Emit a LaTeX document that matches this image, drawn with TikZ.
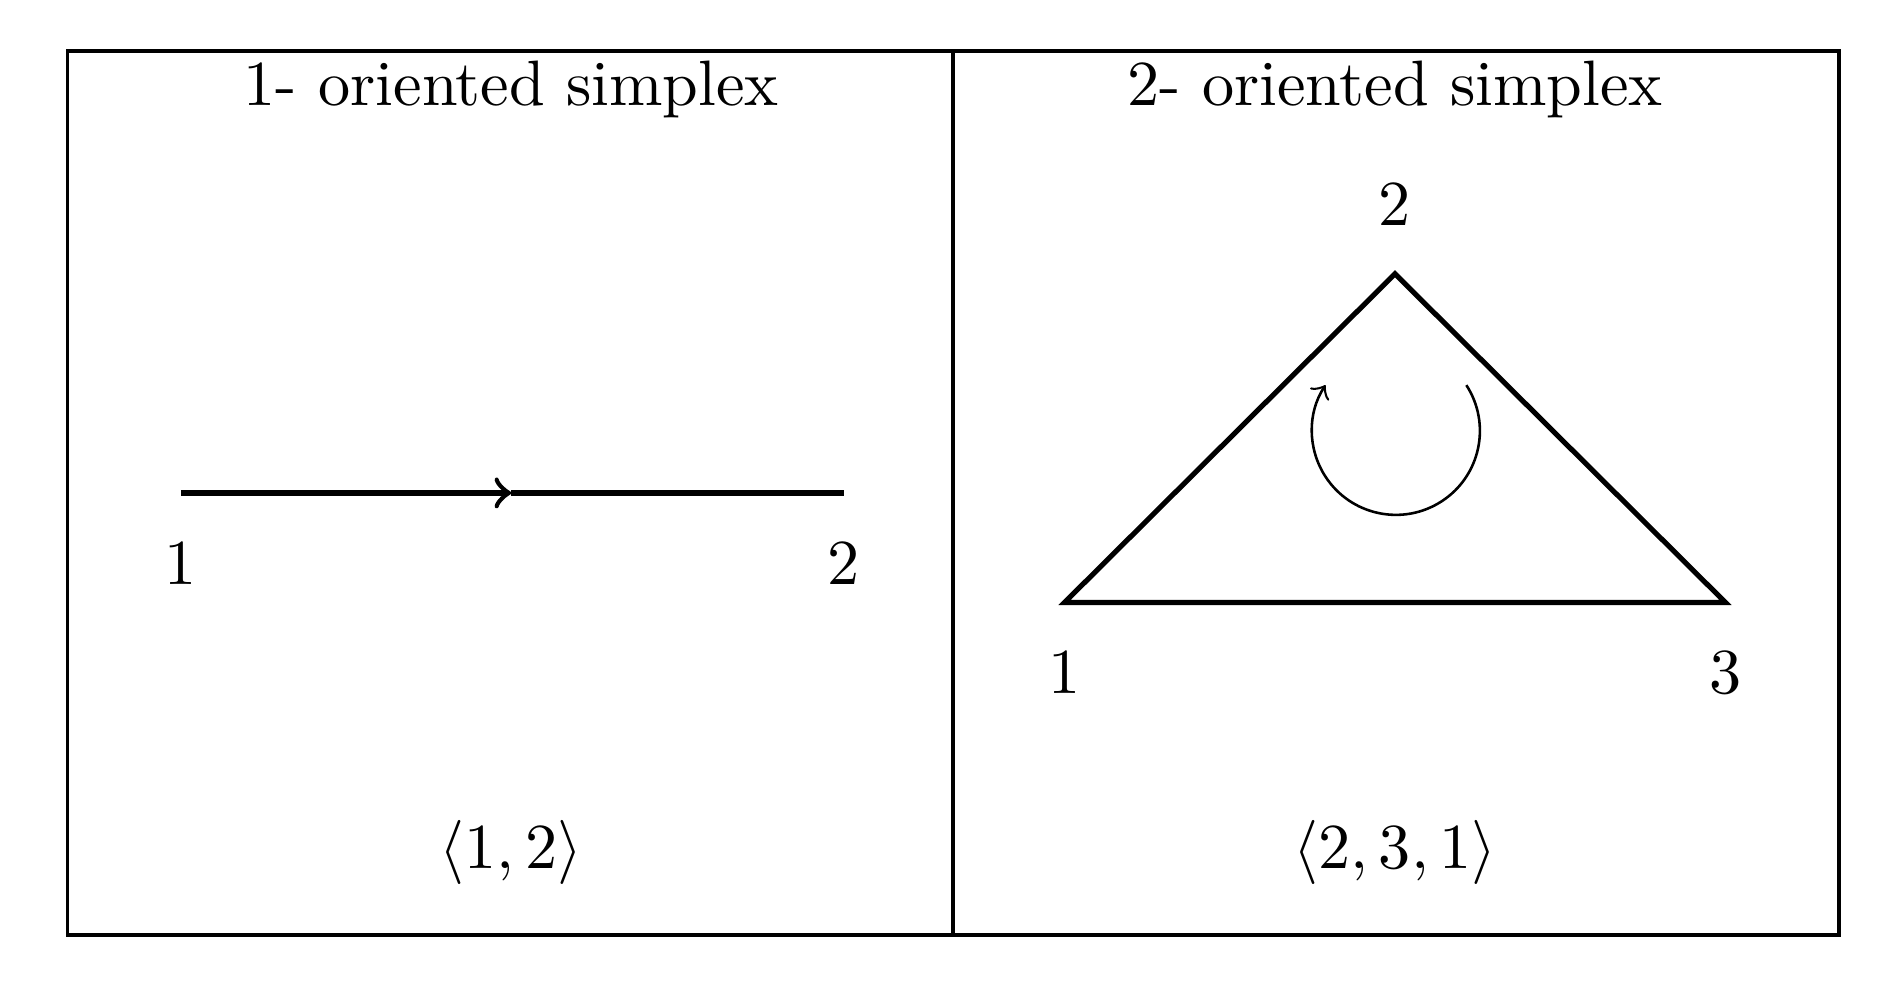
\documentclass[tikz,border=0pt]{standalone}
\begin{document}
\begin{tikzpicture}
        \useasboundingbox (0,0) rectangle (10.28,5.44);
        \draw [semithick] (0.37,0.32) rectangle (10.07,5.16);
        \draw [semithick] (5.22,0.32) -- (5.22,5.16);
        \node (t1) at (2.8,4.95) {1- oriented simplex};
        \node (t2) at (7.64,4.95) {2- oriented simplex};
        \coordinate (a1) at (0.99,2.74);
        \coordinate (am) at (2.8,2.74);
        \coordinate (a2) at (4.62,2.74);
        \node [below=4pt] (la1) at (a1) {1};
        \node [below=4pt] (la2) at (a2) {2};
        \draw [thick,->] (a1) -- (am);
        \draw [thick] (am) -- (a2);
        \node (s1) at (2.8,0.77) {$\langle 1,2\rangle$};
        \coordinate (b1) at (5.83,2.14);
        \coordinate (b2) at (7.64,3.94);
        \coordinate (b3) at (9.45,2.14);
        \draw [thick] (b1) -- (b2) -- (b3) -- cycle;
        \node [below=4pt] (lb1) at (b1) {1};
        \node [above=4pt] (lb2) at (b2) {2};
        \node [below=4pt] (lb3) at (b3) {3};
        \coordinate (c) at (7.645,3.08);
        \draw [->] ([shift={(33:0.46)}]c) arc (33:-213:0.46);
        \node (s2) at (7.64,0.77) {$\langle 2,3,1\rangle$};
      \end{tikzpicture}
\end{document}
